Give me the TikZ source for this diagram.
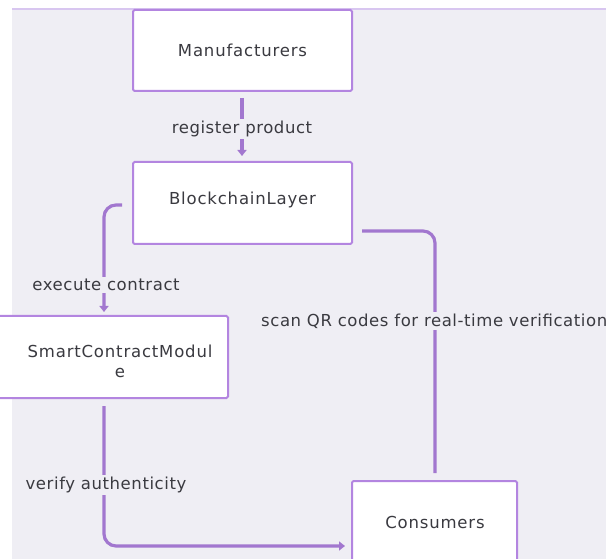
\documentclass[tikz,border=0pt]{standalone}
\usepackage{fontspec}
\setmainfont{DejaVu Sans}[LetterSpace=5]
\newfontfamily\tagfont{DejaVu Sans}[LetterSpace=3.5]
\usetikzlibrary{arrows.meta}
\definecolor{canvas}{HTML}{EFEEF4}
\definecolor{boxline}{HTML}{B385E0}
\definecolor{flow}{HTML}{A277CF}
\definecolor{ink}{HTML}{3A3A40}
\definecolor{rim}{HTML}{D8C6F0}
\tikzset{
  x=1pt, y=-1pt,
  entity/.style={draw=boxline, line width=2pt, fill=white, rounded corners=1.5pt},
  flowline/.style={draw=flow, line width=3.2pt, rounded corners=12pt},
  flowarrow/.style={flowline, -{Triangle[length=6pt,width=9pt]}},
  tag/.style={fill=canvas, text=ink, font=\tagfont\fontsize{16.5}{19}\selectfont, inner sep=2pt},
  entlabel/.style={text=ink, font=\fontsize{16.5}{20}\selectfont, align=center}
}
\begin{document}
\begin{tikzpicture}
\useasboundingbox (0,0) rectangle (606,559);
\begin{scope}
\clip (0,0) rectangle (606,559);
% page and canvas
\fill[white] (0,0) rectangle (606,559);
\fill[canvas] (12,9) rectangle (606,559);
\draw[rim, line width=2pt] (12,9.5) -- (606,9.5);

% entity boxes
\draw[entity] (133,10) rectangle (352,91);
\node[entlabel] (man) at (242.5,50) {Manufacturers};
\draw[entity] (133,162) rectangle (352,244);
\node[entlabel] (blk) at (242.5,200) {BlockchainLayer};
\draw[entity] (-20,316) rectangle (228,398);
\node[entlabel] (scm) at (120,361) {SmartContractModul\\e};
\draw[entity] (352,481) rectangle (517,580);
\node[entlabel] (con) at (435,522) {Consumers};

% anchor points of the connectors
\coordinate (m1) at (242,98);
\coordinate (m2) at (242,156);
\coordinate (b1) at (122,205);
\coordinate (bc) at (104,205);
\coordinate (s1) at (104,312);
\coordinate (s0) at (104,406);
\coordinate (sc) at (104,546);
\coordinate (c1) at (345,546);
\coordinate (r1) at (362,231);
\coordinate (rc) at (435,231);
\coordinate (r2) at (435,473);

% connectors
\draw[flowarrow] (m1) -- (m2);
\draw[flowarrow] (b1) -- (bc) -- (s1);
\draw[flowarrow] (s0) -- (sc) -- (c1);
\draw[flowline] (r1) -- (rc) -- (r2);

% connector labels
\node[tag] (l1) at (242,129) {register product};
\node[tag] (l2) at (106,285) {execute contract};
\node[tag] (l3) at (106,485) {verify authenticity};
\node[tag, anchor=west] (l4) at (259,321) {scan QR codes for real-time verification};
\end{scope}
\end{tikzpicture}
\end{document}
